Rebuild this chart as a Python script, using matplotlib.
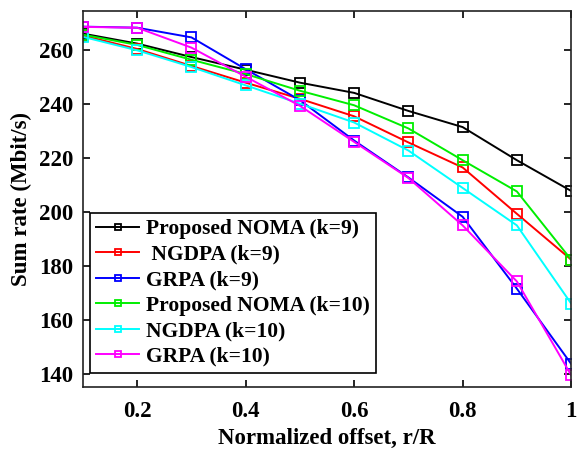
import matplotlib
matplotlib.use('Agg')
import matplotlib.pyplot as plt

plt.rcParams['font.family'] = ['Liberation Serif', 'DejaVu Serif']
plt.rcParams['font.weight'] = 'bold'

offset = [0.1, 0.2, 0.3, 0.4, 0.5, 0.6, 0.7, 0.8, 0.9, 1.0]

noma_k9 = [266.2, 262.5, 257.5, 252.8, 248.0, 244.2, 237.5, 231.5, 219.2, 207.8]
ngdpa_k9 = [265.5, 260.5, 254.2, 248.0, 242.0, 235.5, 225.8, 216.5, 199.3, 182.3]
grpa_k9 = [268.8, 268.4, 264.8, 253.0, 241.5, 226.5, 212.8, 198.2, 171.5, 143.6]
noma_k10 = [265.8, 262.0, 256.5, 251.2, 245.0, 239.6, 231.0, 219.2, 207.6, 182.3]
ngdpa_k10 = [265.0, 260.0, 253.8, 247.0, 240.2, 233.2, 222.8, 208.9, 195.0, 166.0]
grpa_k10 = [268.7, 268.4, 261.0, 250.2, 239.4, 226.0, 212.6, 195.0, 174.2, 139.4]

series = [
    ('Proposed NOMA (k=9)', noma_k9, 'black'),
    (' NGDPA (k=9)', ngdpa_k9, 'red'),
    ('GRPA (k=9)', grpa_k9, 'blue'),
    ('Proposed NOMA (k=10)', noma_k10, '#00ee00'),
    ('NGDPA (k=10)', ngdpa_k10, 'cyan'),
    ('GRPA (k=10)', grpa_k10, 'magenta'),
]

fig = plt.figure(figsize=(5.77, 4.53), dpi=100)
ax = fig.add_axes([0.1438, 0.1457, 0.846, 0.830])

for label, vals, color in series:
    ax.plot(offset, vals, color=color, marker='s', markersize=7,
            markerfacecolor='none', markeredgewidth=1.3, linewidth=1.4,
            label=label)

ax.set_xlim(0.1, 1.0)
ax.set_ylim(135.0, 274.6)
ax.set_xticks([0.2, 0.4, 0.6, 0.8, 1.0])
ax.set_xticklabels(['0.2', '0.4', '0.6', '0.8', '1'])
ax.set_yticks([140, 160, 180, 200, 220, 240, 260])
ax.tick_params(direction='in', top=True, right=True, labelsize=16.5,
               length=5, width=1.2)
ax.tick_params(axis='x', pad=10)
ax.tick_params(axis='y', pad=7)
for sp in ax.spines.values():
    sp.set_linewidth(1.2)
    sp.set_color('#222222')

ax.set_xlabel('Normalized offset, r/R', fontsize=16.5, fontweight='bold',
              labelpad=4.5)
ax.set_ylabel('Sum rate (Mbit/s)', fontsize=16.5, fontweight='bold',
              labelpad=5)

leg = ax.legend(loc='lower left', bbox_to_anchor=(0.014, 0.037),
                borderaxespad=0, fontsize=15.5, frameon=True, fancybox=False,
                edgecolor='black', handlelength=2.0, labelspacing=0.25,
                handletextpad=0.3, borderpad=0.3, framealpha=1,
                markerscale=0.7)
leg.get_frame().set_linewidth(1.2)

fig.savefig('out.png', dpi=100)
